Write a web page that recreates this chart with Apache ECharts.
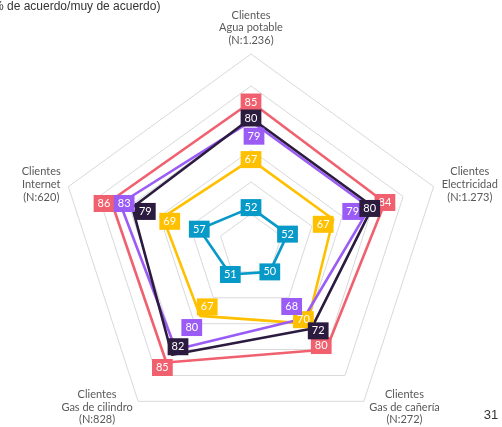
<!DOCTYPE html>
<html>
<head>
<meta charset="utf-8">
<script src="https://cdn.jsdelivr.net/npm/echarts@6/dist/echarts.min.js"></script>
<style>
  html, body { margin: 0; padding: 0; background: #fff; }
  #chart { width: 502px; height: 427px; }
</style>
</head>
<body>
<div id="chart"></div>
<script>
// ejes en el orden en que el radar los recorre (antihorario desde arriba)
const categories = ['Agua potable', 'Internet', 'Gas de cilindro', 'Gas de cañería', 'Electricidad']
const sampleSizes = ['1.236', '620', '828', '272', '1.273']

const valuesBlue = [52, 57, 51, 50, 52]
const valuesYellow = [67, 69, 67, 70, 67]
const valuesPink = [85, 86, 85, 80, 84]
const valuesPurple = [79, 83, 80, 68, 79]
const valuesDark = [80, 79, 82, 72, 80]

const axisMin = 40
const axisMax = 100

// orden de dibujo: las etiquetas oscuras quedan encima
const seriesDefs = [
  { name: 'Serie 1', values: valuesBlue, color: '#0799c8' },
  { name: 'Serie 2', values: valuesYellow, color: '#ffc000' },
  { name: 'Serie 3', values: valuesPink, color: '#f0606e' },
  { name: 'Serie 4', values: valuesPurple, color: '#9b5cf6' },
  { name: 'Serie 5', values: valuesDark, color: '#2b1b3f' },
]

// desplazamiento de etiquetas que se solapan (px), por serie e índice de eje
const labelNudge = {
  'Serie 2': { 1: [7, 4], 2: [7, -9], 3: [-4, -4], 4: [-10, 5] },
  'Serie 3': { 1: [-7, 3], 2: [-4, 5], 3: [-5, -4] },
  'Serie 4': { 0: [3, 15], 1: [4, 0], 2: [16, -22], 3: [-12, -12], 4: [-17, 4] },
  'Serie 5': { 1: [13, 4], 2: [6, -8], 3: [7, 2], 4: [-3, 2] },
}

const nameFont = '11px Lato'
const ctx = document.createElement('canvas').getContext('2d')
ctx.font = nameFont
const nameRich = {}
categories.forEach((c, i) => {
  const lines = ['Clientes', c, '(N:' + sampleSizes[i] + ')']
  const w = Math.max(...lines.map(l => ctx.measureText(l).width))
  nameRich['n' + i] = {
    width: Math.ceil(w) + 2,
    align: 'center',
    color: '#595959',
    fontSize: 11,
    fontFamily: 'Lato',
    lineHeight: 12.8,
  }
})

const chart = echarts.init(document.getElementById('chart'))

const option = {
  animation: false,
  backgroundColor: '#fff',
  radar: {
    center: [251, 246],
    radius: 192,
    startAngle: 90,
    splitNumber: 6,
    shape: 'polygon',
    indicator: categories.map(c => ({ name: c, min: axisMin, max: axisMax })),
    axisName: {
      formatter: (value) => {
        const i = categories.indexOf(value)
        const k = 'n' + i
        return `{${k}|Clientes}\n{${k}|${value}}\n{${k}|(N:${sampleSizes[i]})}`
      },
      rich: nameRich,
    },
    nameGap: 7,
    axisLine: { show: false },
    axisTick: { show: false },
    axisLabel: { show: false },
    splitLine: { lineStyle: { color: '#d9d9d9', width: 1 } },
    splitArea: { show: false },
  },
  series: seriesDefs.map(s => ({
    type: 'radar',
    name: s.name,
    symbol: 'none',
    lineStyle: { color: s.color, width: 2.6 },
    itemStyle: { color: s.color },
    data: [{ value: s.values, name: s.name }],
  })),
  graphic: [
    {
      type: 'text', x: -11, y: 7,
      style: { text: '(% de acuerdo/muy de acuerdo)', font: '12px "Liberation Sans"', fill: '#333', align: 'left', verticalAlign: 'middle' },
    },
    {
      type: 'text', x: 491, y: 415,
      style: { text: '31', font: '13px "Liberation Sans"', fill: '#333', align: 'center', verticalAlign: 'middle' },
    },
  ],
}

chart.setOption(option)

// etiquetas de valor en cajas de color, ubicadas con la escala del radar
const radar = chart.getModel().getComponent('radar').coordinateSystem
const labels = []
seriesDefs.forEach(s => {
  s.values.forEach((v, i) => {
    const p = radar.dataToPoint(v, i)
    const d = (labelNudge[s.name] && labelNudge[s.name][i]) || [0, 0]
    labels.push({
      type: 'text',
      x: p[0] + d[0],
      y: p[1] + d[1],
      z: 10,
      style: {
        text: String(v),
        fill: '#fff',
        backgroundColor: s.color,
        padding: [3, 4, 3, 4],
        font: '11px Lato',
        align: 'center',
        verticalAlign: 'middle',
      },
    })
  })
})
chart.setOption({ graphic: option.graphic.concat(labels) })
</script>
</body>
</html>
